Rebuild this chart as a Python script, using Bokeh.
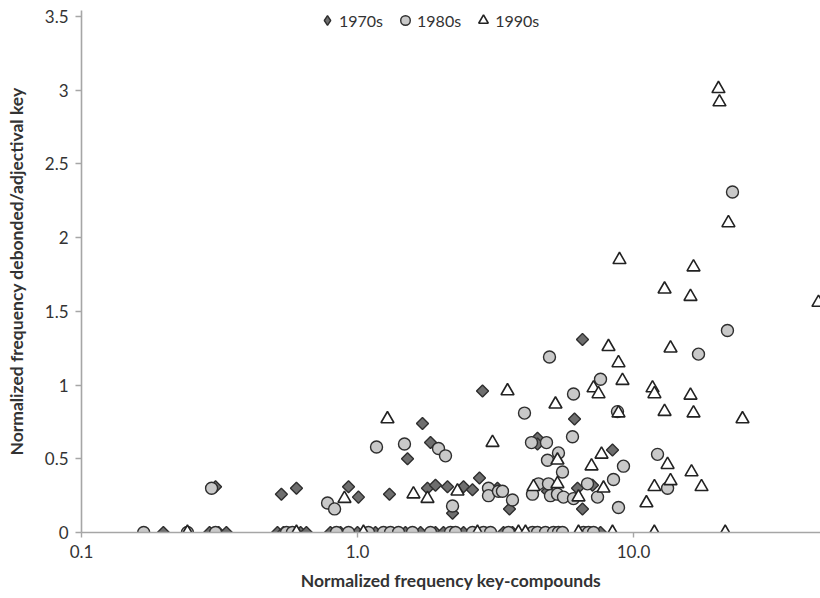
import math
from bokeh.plotting import figure
from bokeh.models import Range1d, FixedTicker, CustomJSTickFormatter, Legend, LegendItem
from bokeh.embed import file_html
from bokeh.resources import INLINE

# ---------------- data ----------------
s1970_x = [0.306, 0.530, 0.601, 0.928, 1.008, 1.306, 1.518, 1.720, 1.793, 1.839,
           1.917, 2.119, 2.210, 2.422, 2.610, 2.767, 2.838, 3.215, 3.554, 4.490,
           4.490, 4.880, 6.114, 6.269, 6.535, 6.535, 7.105, 8.394,
           0.198, 0.291, 0.314, 0.335, 0.513, 0.539, 0.622, 0.653, 0.798, 0.868,
           1.000, 1.162, 1.492, 1.692, 1.917, 2.049, 2.422, 3.381, 3.644, 7.595]
s1970_y = [0.31, 0.26, 0.30, 0.31, 0.24, 0.26, 0.50, 0.74, 0.30, 0.61,
           0.32, 0.31, 0.13, 0.31, 0.29, 0.37, 0.96, 0.30, 0.16, 0.64,
           0.60, 0.28, 0.77, 0.30, 1.31, 0.16, 0.32, 0.56,
           0, 0, 0, 0, 0, 0, 0, 0, 0, 0,
           0, 0, 0, 0, 0, 0, 0, 0, 0, 0]

s1980_x = [0.296, 0.779, 0.826, 1.172, 1.480, 1.966, 2.084, 2.210, 2.983, 2.983,
           3.242, 3.352, 3.644, 4.028, 4.270, 4.306, 4.528, 4.839, 4.880, 4.920,
           4.962, 5.003, 5.303, 5.348, 5.530, 5.577, 6.012, 6.063, 6.063, 6.813,
           7.408, 7.595, 8.464, 8.750, 8.824, 9.199, 12.22, 13.29, 17.20, 21.90,
           22.84,
           0.168, 0.242, 0.306, 0.553, 0.581, 0.839, 0.928, 1.096, 1.242, 1.317,
           1.408, 1.582, 1.839, 2.173, 2.266, 2.610, 2.861, 3.034, 3.525, 4.306,
           4.490, 4.799, 5.129, 5.348, 5.530, 6.590, 6.871, 7.165]
s1980_y = [0.30, 0.20, 0.16, 0.58, 0.60, 0.57, 0.52, 0.18, 0.30, 0.25,
           0.28, 0.28, 0.22, 0.81, 0.61, 0.26, 0.33, 0.61, 0.49, 0.33,
           1.19, 0.25, 0.26, 0.54, 0.41, 0.24, 0.65, 0.94, 0.23, 0.33,
           0.24, 1.04, 0.36, 0.82, 0.17, 0.45, 0.53, 0.30, 1.21, 1.37,
           2.31,
           0, 0, 0, 0, 0, 0, 0, 0, 0, 0,
           0, 0, 0, 0, 0, 0, 0, 0, 0, 0,
           0, 0, 0, 0, 0, 0, 0, 0]

s1990_x = [0.897, 1.284, 1.595, 1.793, 2.303, 3.085, 3.496, 4.343, 5.216, 5.303,
           5.303, 6.321, 7.046, 7.165, 7.470, 7.659, 7.787, 8.118, 8.824, 8.824,
           8.898, 9.123, 11.14, 11.72, 11.91, 11.91, 12.96, 12.96, 13.29, 13.62,
           13.62, 16.09, 16.09, 16.23, 16.50, 16.50, 17.64, 20.32, 20.49, 22.08,
           24.83, 46.8,
           0.242, 0.601, 1.051, 2.721, 3.831, 4.061, 6.321, 8.394, 11.9, 21.5]
s1990_y = [0.23, 0.77, 0.26, 0.23, 0.28, 0.61, 0.96, 0.31, 0.87, 0.49,
           0.33, 0.24, 0.45, 0.98, 0.94, 0.53, 0.30, 1.26, 1.15, 0.81,
           1.85, 1.03, 0.20, 0.98, 0.94, 0.31, 1.65, 0.82, 0.46, 1.25,
           0.35, 1.60, 0.93, 0.41, 1.80, 0.81, 0.31, 3.01, 2.92, 2.10,
           0.77, 1.56,
           0, 0, 0, 0, 0, 0, 0, 0, 0, 0]

series_names = ["1970s", "1980s", "1990s"]
x_ticks = [0.1, 1, 10]
y_ticks = [0, 0.5, 1, 1.5, 2, 2.5, 3, 3.5]
x_title = "Normalized frequency key-compounds"
y_title = "Normalized frequency debonded/adjectival key"

FONT = "Lato"
AXIS_GRAY = "#a6a6a6"
TXT = "#333333"

p = figure(width=820, height=598, x_axis_type="log",
           x_range=Range1d(0.1, 47.6), y_range=Range1d(0, 3.541),
           output_backend="svg", toolbar_location=None,
           min_border_left=81, min_border_right=0, min_border_top=10,
           min_border_bottom=66)
p.outline_line_color = None
p.grid.grid_line_color = None
p.background_fill_color = "white"
p.border_fill_color = "white"

s70 = dict(fill_color="#6e6e6e", line_color="#2e2e2e", line_width=1.4)
s80 = dict(fill_color="#c9c9c9", line_color="#2e2e2e", line_width=1.4)
s90 = dict(fill_color="white", line_color="#222222", line_width=1.6)

# legend proxy for the 1970s diamonds (the legend ignores a marker's angle);
# drawn tiny underneath the real markers so it stays hidden in the plot
r70_key = p.scatter(s1970_x, s1970_y, marker="diamond", size=1,
                    fill_color="#6e6e6e", line_color="#2e2e2e", line_width=1.4)
r70 = p.scatter(s1970_x, s1970_y, marker="square", angle=math.pi / 4, size=8.5, **s70)
r80 = p.scatter(s1980_x, s1980_y, marker="circle", size=12, **s80)
r90 = p.scatter(s1990_x, s1990_y, marker="triangle", size=13, **s90)

for ax in (p.xaxis[0], p.yaxis[0]):
    ax.axis_line_color = AXIS_GRAY
    ax.axis_line_width = 1.6
    ax.major_tick_line_color = AXIS_GRAY
    ax.major_tick_line_width = 1.4
    ax.major_tick_in = 0
    ax.minor_tick_line_color = None
    ax.major_label_text_font = FONT
    ax.major_label_text_font_size = "17px"
    ax.major_label_text_color = TXT
    ax.axis_label_text_font = FONT
    ax.axis_label_text_font_size = "17.5px"
    ax.axis_label_text_font_style = "bold"
    ax.axis_label_text_color = TXT

p.xaxis.ticker = FixedTicker(ticks=x_ticks)
p.xaxis.formatter = CustomJSTickFormatter(code="return tick.toFixed(1);")
p.xaxis.major_tick_out = 5
p.xaxis.major_label_standoff = 7
p.xaxis.axis_label = x_title
p.xaxis.axis_label_standoff = 9

p.yaxis.ticker = FixedTicker(ticks=y_ticks)
p.yaxis.formatter = CustomJSTickFormatter(code="return tick.toString();")
p.yaxis.major_tick_out = 6
p.yaxis.major_label_standoff = 7
p.yaxis.axis_label = y_title
p.yaxis.axis_label_standoff = 15

legend = Legend(items=[LegendItem(label=series_names[0], renderers=[r70_key]),
                       LegendItem(label=series_names[1], renderers=[r80]),
                       LegendItem(label=series_names[2], renderers=[r90])],
                orientation="horizontal", location=(234, 500),
                label_text_font=FONT, label_text_font_size="16px",
                label_text_color=TXT, glyph_width=24, glyph_height=24,
                spacing=10, label_standoff=-4, padding=0, margin=0,
                border_line_color=None, background_fill_alpha=0)
p.add_layout(legend, "center")

open("out.html", "w").write(file_html(p, INLINE))
